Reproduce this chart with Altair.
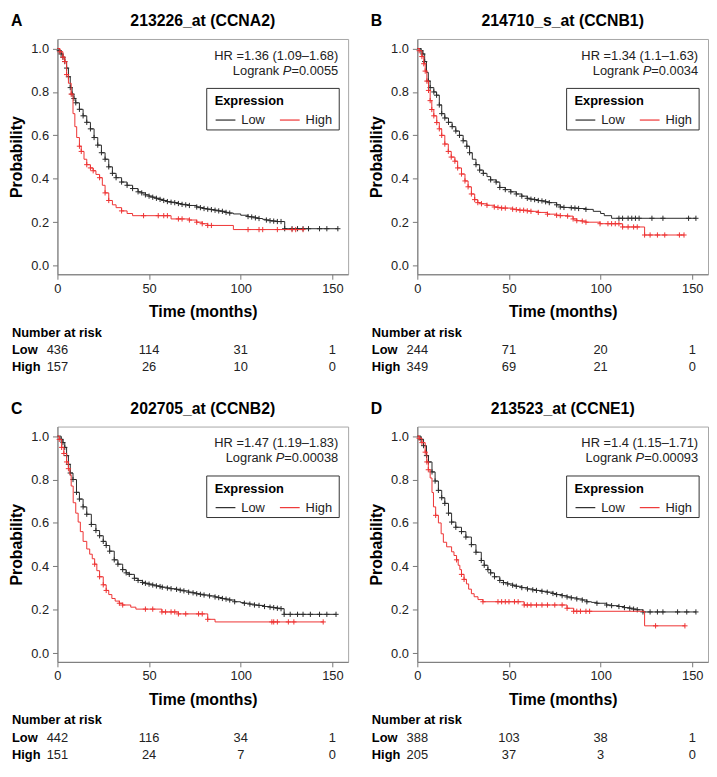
import altair as alt
import pandas as pd

FONT = "Liberation Sans, Arial, Helvetica, sans-serif"

# ---------------- data ----------------
letters = ["A", "B", "C", "D"]
titles = ["213226_at (CCNA2)", "214710_s_at (CCNB1)", "202705_at (CCNB2)", "213523_at (CCNE1)"]
hr_texts = ["HR =1.36 (1.09\u20131.68)", "HR =1.34 (1.1\u20131.63)",
            "HR =1.47 (1.19\u20131.83)", "HR =1.4 (1.15\u20131.71)"]
p_values = ["0.0055", "0.0034", "0.00038", "0.00093"]

risk_times = [0, 50, 100, 150]
risk_low = [[436, 114, 31, 1], [244, 71, 20, 1], [442, 116, 34, 1], [388, 103, 38, 1]]
risk_high = [[157, 26, 10, 0], [349, 69, 21, 0], [151, 24, 7, 0], [205, 37, 3, 0]]

x_ticks = [0, 50, 100, 150]
y_ticks = [0.0, 0.2, 0.4, 0.6, 0.8, 1.0]

# curves: [time, survival, censor-mark]
A_low = [[0,1.0,0],[1,0.99,1],[2,0.975,1],[3,0.96,1],[4,0.94,1],[5,0.91,1],[6,0.87,1],[7,0.82,1],[8,0.79,1],[9,0.77,1],[10,0.75,1],[12,0.72,1],[14,0.69,1],[16,0.66,1],[18,0.63,1],[20,0.59,1],[22,0.555,1],[24,0.52,1],[26,0.49,1],[28,0.455,1],[30,0.425,1],[32,0.405,1],[35,0.385,1],[38,0.37,1],[41,0.355,1],[44,0.34,1],[46,0.335,1],[48,0.326,1],[50,0.32,1],[52,0.315,1],[54,0.31,1],[56,0.305,1],[58,0.3,1],[60,0.295,1],[62,0.292,1],[64,0.29,1],[66,0.286,1],[68,0.282,1],[70,0.28,1],[72,0.277,1],[76,0.27,1],[78,0.267,1],[80,0.263,1],[82,0.26,1],[84,0.258,1],[86,0.255,1],[88,0.252,1],[90,0.25,1],[92,0.245,1],[94,0.242,1],[96,0.238,0],[100,0.232,0],[104,0.226,1],[106,0.224,1],[108,0.22,1],[110,0.217,1],[112,0.213,0],[114,0.21,1],[116,0.207,1],[118,0.205,1],[120,0.203,1],[122,0.203,1],[124,0.17,1],[128,0.17,1],[131,0.17,1],[134,0.17,1],[137,0.17,1],[143,0.17,1],[147,0.17,1],[153,0.17,1]]
A_high = [[0,1.0,0],[1.4,0.985,1],[3,0.96,1],[4,0.94,1],[5,0.88,1],[6,0.84,0],[7.5,0.79,1],[8.5,0.70,0],[9.5,0.64,0],[10.5,0.59,0],[12,0.55,1],[13,0.526,1],[14.5,0.49,0],[16,0.465,1],[18,0.45,1],[19.5,0.437,1],[21,0.42,0],[23,0.405,1],[24.5,0.37,0],[26,0.335,1],[28,0.30,1],[30,0.28,0],[32,0.267,0],[35,0.252,1],[38,0.24,0],[41,0.23,0],[47,0.23,1],[55,0.23,1],[58,0.23,1],[60,0.23,1],[62,0.215,0],[66,0.215,1],[68,0.215,1],[72,0.21,1],[76,0.2,1],[79,0.193,1],[82,0.185,1],[84,0.185,1],[96,0.166,0],[104,0.166,1],[110,0.166,1],[112,0.166,1],[120,0.166,1],[128,0.166,1],[130,0.166,1],[134,0.166,1]]
B_low = [[0,1.0,0],[2,0.99,1],[3,0.975,1],[4,0.94,1],[5,0.89,0],[6,0.85,1],[7,0.82,1],[9,0.80,1],[10.5,0.785,1],[12,0.74,1],[13.3,0.70,1],[15,0.68,1],[17,0.66,1],[19,0.64,1],[21,0.62,1],[23,0.6,1],[25,0.575,1],[27,0.55,1],[28.5,0.52,1],[30,0.49,0],[32,0.465,1],[34,0.44,1],[36,0.425,1],[38,0.41,0],[40,0.395,1],[43,0.385,1],[45,0.36,1],[48,0.35,1],[51,0.34,1],[54,0.33,1],[57,0.32,1],[60,0.31,1],[62,0.306,1],[64,0.304,1],[66,0.3,1],[68,0.298,1],[70,0.294,1],[72,0.29,1],[76,0.28,1],[78,0.27,1],[80,0.268,1],[84,0.266,1],[86,0.265,1],[88,0.263,1],[92,0.259,1],[96,0.25,0],[100,0.24,0],[102,0.23,0],[106,0.218,0],[110,0.218,1],[112,0.218,1],[115,0.218,1],[117,0.218,1],[119,0.218,1],[121,0.218,1],[128,0.218,1],[134,0.218,1],[148,0.218,1],[152,0.218,1]]
B_high = [[0,1.0,0],[1,0.99,1],[2.5,0.963,1],[3.5,0.93,1],[4.3,0.896,1],[5.2,0.85,1],[6.1,0.807,1],[7,0.76,1],[7.9,0.719,1],[9,0.69,1],[10.6,0.659,1],[12,0.63,1],[13.3,0.6,1],[15,0.56,1],[16.9,0.526,1],[18.5,0.50,1],[20.5,0.481,1],[22,0.45,1],[24.1,0.422,1],[26,0.39,1],[27.7,0.363,1],[29.5,0.33,1],[31.3,0.304,1],[33,0.29,1],[35,0.285,1],[38,0.278,1],[42,0.27,1],[44,0.268,1],[46,0.265,1],[48,0.265,1],[52,0.26,1],[54,0.258,1],[56,0.255,1],[58,0.255,1],[60,0.252,1],[62,0.25,1],[66,0.245,1],[71,0.237,1],[76,0.232,1],[78,0.23,1],[82,0.228,1],[85,0.215,1],[87,0.207,1],[90,0.205,1],[92,0.2,1],[99.7,0.193,1],[104,0.193,1],[106,0.193,1],[108,0.193,1],[110,0.193,1],[112,0.178,1],[115,0.178,1],[118,0.178,1],[120,0.178,1],[124,0.141,1],[127,0.141,1],[131,0.141,1],[135,0.141,1],[143,0.141,1],[145.5,0.141,1]]
C_low = [[0,1.0,0],[2,0.985,1],[3,0.97,1],[4,0.948,1],[5,0.91,1],[6,0.87,1],[7,0.83,1],[8.5,0.80,1],[10.4,0.741,1],[12,0.71,1],[14,0.674,1],[16,0.64,1],[18.5,0.593,1],[21,0.565,1],[23,0.541,1],[25,0.515,1],[26.6,0.496,1],[28.5,0.47,1],[31,0.43,1],[33,0.41,1],[35.6,0.385,1],[37.5,0.37,1],[39.2,0.363,1],[42,0.345,1],[44,0.335,1],[46.4,0.326,1],[48,0.322,1],[50,0.318,1],[52,0.314,1],[54,0.31,1],[56,0.307,1],[57.2,0.304,1],[60,0.3,1],[62,0.297,1],[65,0.294,1],[67,0.29,1],[69,0.287,1],[71.6,0.281,1],[74,0.278,1],[76,0.274,1],[78,0.271,1],[80,0.268,1],[83,0.264,1],[86,0.259,1],[88,0.256,1],[90,0.252,1],[92,0.249,1],[94,0.245,1],[96.7,0.237,1],[100,0.233,0],[102,0.23,1],[105,0.226,1],[107.5,0.222,1],[110,0.22,1],[113,0.215,1],[116,0.212,1],[118,0.21,1],[120,0.207,1],[122,0.205,1],[123.7,0.179,1],[127,0.179,1],[131,0.179,1],[134,0.179,1],[138,0.179,1],[143,0.179,1],[147,0.179,1],[152,0.179,1]]
C_high = [[0,1.0,0],[1,0.985,1],[2.3,0.948,1],[3.5,0.92,1],[5,0.881,1],[6,0.85,1],[6.8,0.822,0],[7.5,0.77,0],[8.6,0.693,0],[10,0.645,0],[11.3,0.604,0],[12.5,0.56,0],[14,0.515,0],[16,0.48,0],[17.6,0.456,0],[19,0.435,0],[20.3,0.41,1],[21.5,0.38,0],[23,0.352,1],[25,0.315,1],[26.6,0.289,1],[28,0.27,0],[29.7,0.252,0],[31.5,0.24,0],[33.8,0.23,1],[35.6,0.222,1],[40,0.212,0],[42.8,0.203,0],[48,0.203,1],[52,0.203,1],[57,0.19,1],[59,0.19,1],[62,0.19,1],[64,0.19,1],[66,0.181,1],[70,0.181,1],[77,0.181,1],[79,0.181,1],[82,0.156,1],[86,0.144,0],[117,0.144,1],[118,0.144,1],[120,0.144,1],[126,0.144,1],[129,0.144,1],[145,0.144,1]]
D_low = [[0,1.0,0],[2,0.985,1],[3.4,0.956,1],[5,0.91,1],[6.1,0.881,1],[8,0.835,1],[9.7,0.793,1],[11.5,0.75,1],[13.3,0.716,1],[15,0.69,1],[17,0.645,1],[18.7,0.604,1],[21,0.58,1],[24.1,0.56,1],[26.5,0.535,1],[29.5,0.5,1],[32,0.465,1],[34.9,0.427,1],[36.5,0.405,1],[38.5,0.385,1],[40,0.37,1],[42.1,0.352,1],[45,0.335,1],[47,0.325,1],[49.3,0.319,1],[52,0.313,1],[54,0.308,1],[57,0.302,1],[60.1,0.296,1],[63,0.292,1],[65,0.289,1],[68,0.285,1],[70.9,0.281,1],[74,0.275,1],[76,0.27,1],[79,0.265,1],[81.7,0.259,1],[84,0.255,1],[87,0.25,1],[90,0.245,1],[92.5,0.237,1],[95,0.234,0],[98,0.23,1],[103.3,0.222,1],[106,0.219,1],[110,0.215,1],[113,0.21,1],[115.9,0.207,1],[118,0.203,1],[120,0.2,1],[123.1,0.19,1],[127,0.19,1],[131,0.19,1],[134,0.19,1],[142,0.19,1],[147,0.19,1],[152,0.19,1]]
D_high = [[0,1.0,0],[1,0.99,1],[2.5,0.97,1],[4.3,0.926,1],[5.2,0.881,1],[6,0.845,1],[7,0.807,0],[8,0.74,0],[8.8,0.674,0],[10,0.635,1],[11.5,0.6,0],[13,0.55,0],[14.2,0.511,0],[16,0.49,0],[18.7,0.467,0],[20,0.45,0],[21.4,0.43,1],[22.3,0.405,0],[23.2,0.385,0],[24.1,0.363,1],[25.5,0.34,1],[26.8,0.319,0],[28,0.295,0],[29.5,0.274,0],[31,0.26,0],[33.1,0.247,0],[35.8,0.237,1],[44,0.237,1],[46,0.237,1],[48,0.237,1],[50,0.237,1],[53,0.237,1],[55,0.237,1],[58.3,0.222,1],[60,0.222,1],[62,0.222,1],[65,0.222,1],[68,0.222,1],[71,0.222,1],[75,0.222,1],[79,0.222,1],[81.7,0.207,1],[85.3,0.193,1],[87,0.193,1],[89,0.193,1],[92,0.193,1],[94,0.193,1],[124,0.126,0],[130,0.126,1],[146,0.126,1]]

curves_low = [A_low, B_low, C_low, D_low]
curves_high = [A_high, B_high, C_high, D_high]

# ---------------- styling ----------------
W, H = 294, 238
X_DOMAIN = [0, 158.6]
Y_DOMAIN = [-0.04, 1.044]
LOW_C = "#2a2a2a"
HIGH_C = "#ee3333"
CROSS = "M-1,0L1,0M0,-1L0,1"

CHAR_W = {"0": .556, "1": .556, "2": .556, "3": .556, "4": .556, "5": .556, "6": .556,
          "7": .556, "8": .556, "9": .556, ".": .278, "=": .584, "P": .667, " ": .278}


def text_w(s, size):
    return sum(CHAR_W.get(c, .556) for c in s) * size


def label(txt, x, y, size=13, weight="normal", align="left", style="normal", color="black"):
    return alt.Chart(pd.DataFrame({"v": [txt]})).mark_text(
        align=align, baseline="alphabetic", fontSize=size, fontWeight=weight,
        fontStyle=style, font=FONT, color=color
    ).encode(x=alt.value(x), y=alt.value(y), text="v:N")


def panel(i):
    xenc = alt.X("t:Q", scale=alt.Scale(domain=X_DOMAIN, nice=False, zero=False),
                 axis=alt.Axis(values=x_ticks, format="d", title="Time (months)",
                               titleFont=FONT, titleFontSize=16, titleFontWeight="bold",
                               titleColor="black", titleY=43, titleBaseline="alphabetic",
                               labelFont=FONT, labelFontSize=13, labelColor="#222",
                               labelPadding=3, labelFlush=False, tickColor="#777",
                               tickSize=5, domainColor="#777", grid=False))
    yenc = alt.Y("s:Q", scale=alt.Scale(domain=Y_DOMAIN, nice=False, zero=False),
                 axis=alt.Axis(values=y_ticks, format=".1f", title="Probability",
                               titleFont=FONT, titleFontSize=16, titleFontWeight="bold",
                               titleColor="black", titleX=-36, titleY=H / 2,
                               titleBaseline="alphabetic",
                               labelFont=FONT, labelFontSize=13, labelColor="#222",
                               labelPadding=4, labelFlush=False, tickColor="#777",
                               tickSize=5, domainColor="#777", grid=False))

    low = pd.DataFrame(curves_low[i], columns=["t", "s", "c"])
    high = pd.DataFrame(curves_high[i], columns=["t", "s", "c"])

    layers = []
    for df, col in ((low, LOW_C), (high, HIGH_C)):
        layers.append(alt.Chart(df).mark_line(interpolate="step-after", color=col,
                                              strokeWidth=1).encode(x=xenc, y=yenc))
        layers.append(alt.Chart(df).transform_filter("datum.c == 1").mark_point(
            shape=CROSS, size=28, filled=False, color=col, strokeWidth=1, opacity=1
        ).encode(x=xenc, y=yenc))

    # HR / logrank annotation
    R = 284
    layers.append(label(hr_texts[i], R, 21, align="right", color="#222"))
    rest = "=" + p_values[i]
    wr = text_w(rest, 13)
    wp = text_w("P", 13)
    layers.append(label(rest, R, 36, align="right", color="#222"))
    layers.append(label("P", R - wr, 36, align="right", style="italic", color="#222"))
    layers.append(label("Logrank", R - wr - wp - text_w(" ", 13), 36, align="right", color="#222"))

    # legend box
    layers.append(alt.Chart(pd.DataFrame({"v": [0]})).mark_rect(
        fill="white", stroke="#333", strokeWidth=1
    ).encode(x=alt.value(151), x2=alt.value(285), y=alt.value(50), y2=alt.value(92)))
    layers.append(label("Expression", 159, 67, weight="bold"))
    layers.append(alt.Chart(pd.DataFrame({"v": [0]})).mark_rule(color=LOW_C, strokeWidth=1.2).encode(
        x=alt.value(160), x2=alt.value(180), y=alt.value(82)))
    layers.append(label("Low", 186, 86, color="#222"))
    layers.append(alt.Chart(pd.DataFrame({"v": [0]})).mark_rule(color=HIGH_C, strokeWidth=1.2).encode(
        x=alt.value(225), x2=alt.value(245), y=alt.value(82)))
    layers.append(label("High", 251, 86, color="#222"))

    # panel letter and title
    layers.append(label(letters[i], -47, -13, size=16, weight="bold"))
    layers.append(label(titles[i], W / 2, -13, size=16, weight="bold", align="center"))

    # number at risk table
    layers.append(label("Number at risk", -46, H + 63, weight="bold"))
    layers.append(label("Low", -46, H + 81, weight="bold"))
    layers.append(label("High", -46, H + 98, weight="bold"))
    for vals, yy in ((risk_low[i], H + 81), (risk_high[i], H + 98)):
        rdf = pd.DataFrame({"t": risk_times, "n": [str(v) for v in vals]})
        layers.append(alt.Chart(rdf).mark_text(
            align="center", baseline="alphabetic", fontSize=13, font=FONT, color="#222"
        ).encode(x=xenc, y=alt.value(yy), text="n:N"))

    return alt.layer(*layers).properties(width=W, height=H)


chart = alt.concat(
    panel(0), panel(1), panel(2), panel(3),
    columns=2, spacing={"row": 154, "column": 70}, bounds="flush"
).properties(padding=0, background="white").configure_view(
    stroke="#a6a6a6", strokeWidth=1
).configure_axis(grid=False)

chart.save("out.html", embed_options={"renderer": "svg", "actions": False})
